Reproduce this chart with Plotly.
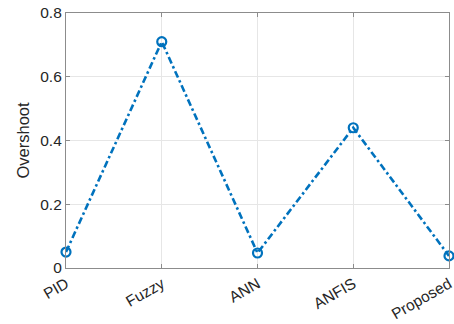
import plotly.graph_objects as go

methods = ["PID", "Fuzzy", "ANN", "ANFIS", "Proposed"]
overshoot = [0.05, 0.71, 0.047, 0.44, 0.038]
y_ticks = [0, 0.2, 0.4, 0.6, 0.8]
y_tick_labels = ["0", "0.2", "0.4", "0.6", "0.8"]

fig = go.Figure()
fig.add_trace(go.Scatter(
    x=list(range(len(methods))), y=overshoot,
    mode="lines+markers",
    line=dict(color="#0072BD", width=2.6, dash="7px,3px,2.5px,3px"),
    marker=dict(symbol="circle-open", size=9, color="#0072BD", line=dict(width=2.2)),
    cliponaxis=False,
))

axis_common = dict(
    showline=True, linecolor="#8c8c8c", linewidth=1.2, mirror="ticks",
    ticks="inside", ticklen=4, tickcolor="#8c8c8c",
    showgrid=True, gridcolor="#e6e6e6", gridwidth=1,
    zeroline=False, automargin=False,
    tickfont=dict(family="Liberation Sans, Arial, sans-serif", size=15.5, color="#262626"),
)

fig.update_layout(
    width=454, height=324,
    margin=dict(l=66, r=5, t=13, b=56),
    plot_bgcolor="white", paper_bgcolor="white",
    showlegend=False,
    xaxis=dict(range=[0, 4], tickmode="array", tickvals=list(range(len(methods))),
               ticktext=methods, tickangle=-30, ticklabeloverflow="allow", **axis_common),
    yaxis=dict(range=[0, 0.8], tickmode="array", tickvals=y_ticks, ticktext=y_tick_labels,
               title=dict(text="Overshoot", standoff=6,
                          font=dict(family="Liberation Sans, Arial, sans-serif", size=16.5, color="#262626")),
               **axis_common),
)

fig.write_html("out.html", config={"displayModeBar": False},
               post_script="document.body.style.margin='0';document.body.style.overflow='hidden';")
